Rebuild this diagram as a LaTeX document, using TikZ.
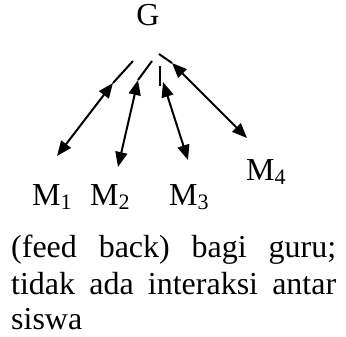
\documentclass[tikz,border=0pt]{standalone}
\usepackage{fontspec}
\setmainfont{Liberation Serif}
\usetikzlibrary{arrows.meta}
\newcommand\sbs[1]{\raisebox{-0.15em}{\fontsize{22}{22}\selectfont #1}}
\tikzset{
  lbl/.style={inner sep=0pt, anchor=base west, font=\fontsize{32}{36}\selectfont},
  conn/.style={line width=2pt},
  dbl/.style={conn, {Triangle[length=15pt,width=12pt]}-{Triangle[length=15pt,width=12pt]}}
}
\begin{document}
\begin{tikzpicture}[x=1pt,y=-1pt]
\useasboundingbox (0,0) rectangle (346,337);
% labels
\node[lbl, anchor=base] (G) at (148,26) {G};
\node[lbl] (M1) at (32,205) {M\sbs{1}};
\node[lbl] (M2) at (90,205) {M\sbs{2}};
\node[lbl] (M3) at (169,205) {M\sbs{3}};
\node[lbl] (M4) at (246,180) {M\sbs{4}};
% connector points
\coordinate (a1) at (133,61);  \coordinate (t1) at (113,83);  \coordinate (b1) at (57,156);
\coordinate (a2) at (152,61);  \coordinate (t2) at (138,80);  \coordinate (b2) at (118,167);
\coordinate (a3) at (160,66);  \coordinate (c3) at (160,86);
\coordinate (t3) at (163,82);  \coordinate (b3) at (188,160);
\coordinate (a4) at (159,54);  \coordinate (t4) at (172,63);  \coordinate (b4) at (247,138);
% connectors
\draw[conn] (a1) -- (t1);
\draw[dbl] (t1) -- (b1);
\draw[conn] (a2) -- (t2);
\draw[dbl] (t2) -- (b2);
\draw[conn] (a3) -- (c3);
\draw[dbl] (t3) -- (b3);
\draw[conn] (a4) -- (t4);
\draw[dbl] (t4) -- (b4);
% body text
\node[lbl] (L1) at (11,258) {\makebox[325pt][s]{(feed back) bagi guru;}};
\node[lbl] (L2) at (11,294) {\makebox[325pt][s]{tidak ada interaksi antar}};
\node[lbl] (L3) at (11,329) {siswa};
\end{tikzpicture}
\end{document}
